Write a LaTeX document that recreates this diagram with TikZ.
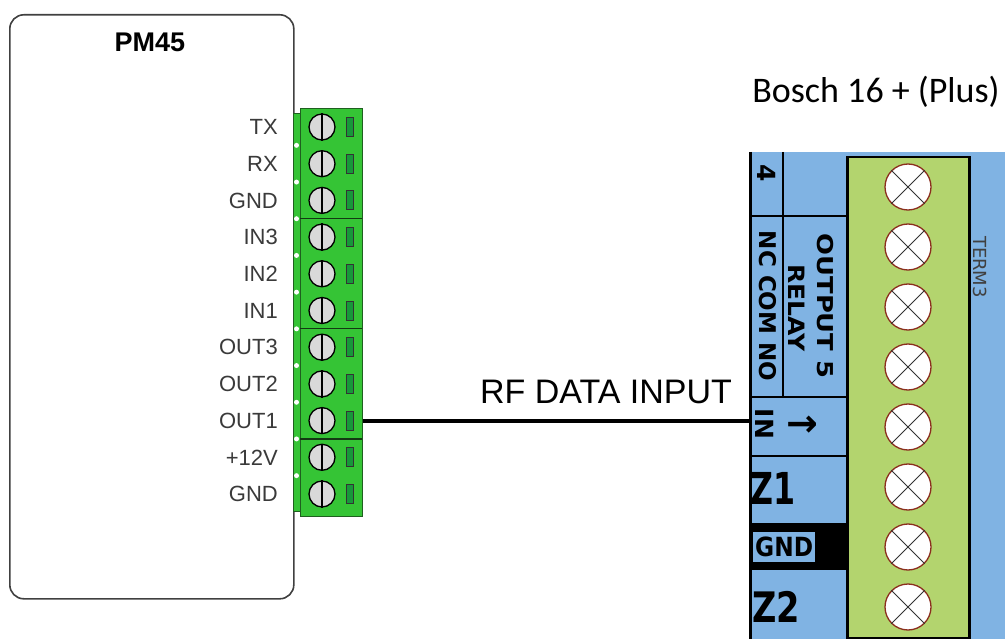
\documentclass[tikz,border=0pt]{standalone}
\usepackage{fontspec}
\setmainfont{Liberation Sans}
\newfontfamily\calfont{Carlito}
\newfontfamily\djfont{DejaVu Sans}
\usepackage{graphicx}
\definecolor{bblue}{HTML}{80B3E3}
\definecolor{bgreen}{HTML}{B3D46E}
\definecolor{tgreen}{HTML}{35C435}
\definecolor{tedge}{HTML}{1F5F1F}
\definecolor{tdark}{HTML}{17983A}
\definecolor{screwrim}{HTML}{8B2E1E}
\definecolor{lbl}{HTML}{3A3A3A}
\begin{document}
\begin{tikzpicture}[x=1pt,y=-1pt,
  pmbox/.style={draw=black!75, line width=1.6pt, rounded corners=14pt, fill=white, inner sep=0pt},
  pinlabel/.style={anchor=base east, text=lbl, font=\fontsize{22}{22}\selectfont, inner sep=0pt},
  pmscrew/.style={circle, draw=black, line width=1.3pt, fill=black!15, minimum size=26pt, inner sep=0pt},
  pmtab/.style={draw=black!80, line width=0.8pt, fill=tdark, minimum width=7pt, minimum height=19pt, inner sep=0pt},
  bscrew/.style={circle, draw=screwrim, line width=1.3pt, fill=white, minimum size=46pt, inner sep=0pt},
  blbl/.style={inner sep=0pt, text=black, font=\djfont\bfseries\fontsize{23}{23}\selectfont},
  wire/.style={line width=4pt, black},
  cell/.style={line width=1.5pt, black}]
\useasboundingbox (0,0) rectangle (1005,639);

% ---------- PM45 ----------
\node[pmbox, anchor=north west, minimum width=284pt, minimum height=584pt] (pm) at (9,14) {};
\node[anchor=base, inner sep=0pt, font=\bfseries\fontsize{27}{27}\selectfont] (pmtitle) at (150,52) {PM45};

% left strip
\node[draw=tedge, line width=0.6pt, fill=tgreen, anchor=north west, minimum width=7pt, minimum height=398pt, inner sep=0pt] (strip) at (293,113) {};
% main block
\node[draw=tedge, line width=1pt, fill=tgreen, anchor=north west, minimum width=62pt, minimum height=408pt, inner sep=0pt] (tb) at (300,108) {};

\foreach \i/\t in {0/TX,1/RX,2/GND,3/IN3,4/IN2,5/IN1,6/OUT3,7/OUT2,8/OUT1,9/+12V,10/GND} {
  \pgfmathsetmacro{\yy}{127+36.7*\i}
  \node[pinlabel] (l\i) at (278,\yy+7.8) {\t};
  \node[pmscrew] (ps\i) at (322,\yy) {};
  \draw[line width=1.3pt] (ps\i.north) -- (ps\i.south);
  \node[pmtab] (pt\i) at (350,\yy) {};
}
\foreach \i in {0,...,9} {
  \pgfmathsetmacro{\yb}{127+36.7*\i+18.35}
  \node[circle, fill=white, minimum size=5pt, inner sep=0pt] (dot\i) at (296.5,\yb) {};
}
\foreach \k in {2,5,8} {
  \pgfmathsetmacro{\yg}{127+36.7*\k+18.35}
  \draw[line width=1.2pt, tedge!60!black] (300,\yg) -- (362,\yg);
}

% ---------- Bosch panel ----------
\node[anchor=base, inner sep=0pt, font=\calfont\fontsize{36}{36}\selectfont] (btitle) at (876,103) {Bosch 16 + (Plus)};

\node[fill=bblue, anchor=north west, minimum width=255pt, minimum height=487pt, inner sep=0pt] (bp) at (750,152) {};
\node[draw=black, line width=2.5pt, fill=bgreen, anchor=north west, minimum width=122pt, minimum height=481pt, inner sep=0pt] (gr) at (846,156) {};
\draw[line width=3pt] (bp.north west) -- (bp.south west);

% cell lines
\draw[cell] (783,152) -- (783,397);
\draw[cell] (750,216) -- (846,216);
\draw[cell] (750,397) -- (846,397);
\draw[cell] (752,456) -- (846,456);
\fill[black] (750,523) rectangle (846,570);
\node[fill=bblue, anchor=north west, minimum width=62pt, minimum height=30pt, inner sep=0pt] (gndbox) at (753,532) {};

% cell texts
\node[blbl, rotate=-90, font=\djfont\bfseries\fontsize{25}{25}\selectfont] (t4) at (767,173) {4};
\node[blbl, rotate=-90] (tnc) at (768,306) {NC COM NO};
\node[blbl, rotate=-90] (tout) at (825,306) {\scalebox{1.12}[0.95]{OUTPUT 5}};
\node[blbl, rotate=-90, font=\djfont\bfseries\fontsize{25}{25}\selectfont] (trel) at (797,308) {\scalebox{1}[0.9]{RELAY}};
\node[blbl, rotate=-90, font=\djfont\bfseries\fontsize{25}{25}\selectfont] (tin) at (765,424) {IN};
\node[blbl, font=\djfont\bfseries\fontsize{38}{38}\selectfont] (tarr) at (802,426) {→};
\node[blbl, font=\djfont\bfseries\fontsize{44}{44}\selectfont] (tz1) at (773,488) {\scalebox{0.72}[1]{Z1}};
\node[blbl, font=\djfont\bfseries\fontsize{24}{24}\selectfont] (tgnd) at (gndbox) {\scalebox{0.97}[1.1]{GND}};
\node[blbl, font=\djfont\bfseries\fontsize{42}{42}\selectfont] (tz2) at (776,607) {\scalebox{0.8}[1]{Z2}};
\node[inner sep=0pt, rotate=-90, text=black!75, font=\djfont\fontsize{18}{18}\selectfont] (tterm) at (980,267) {TERM3};

% screws
\foreach \i in {0,...,7} {
  \node[bscrew] (bs\i) at (908,187+60*\i) {};
  \draw[line width=1pt, black!80] (bs\i.north east) -- (bs\i.south west);
  \draw[line width=1pt, black!80] (bs\i.north west) -- (bs\i.south east);
}

% ---------- wire ----------
\draw[wire] (tb.east |- ps8) -- (bp.west |- ps8);
\node[anchor=base, inner sep=0pt, font=\fontsize{34}{34}\selectfont] (rf) at (606,403) {RF DATA INPUT};
\end{tikzpicture}
\end{document}
